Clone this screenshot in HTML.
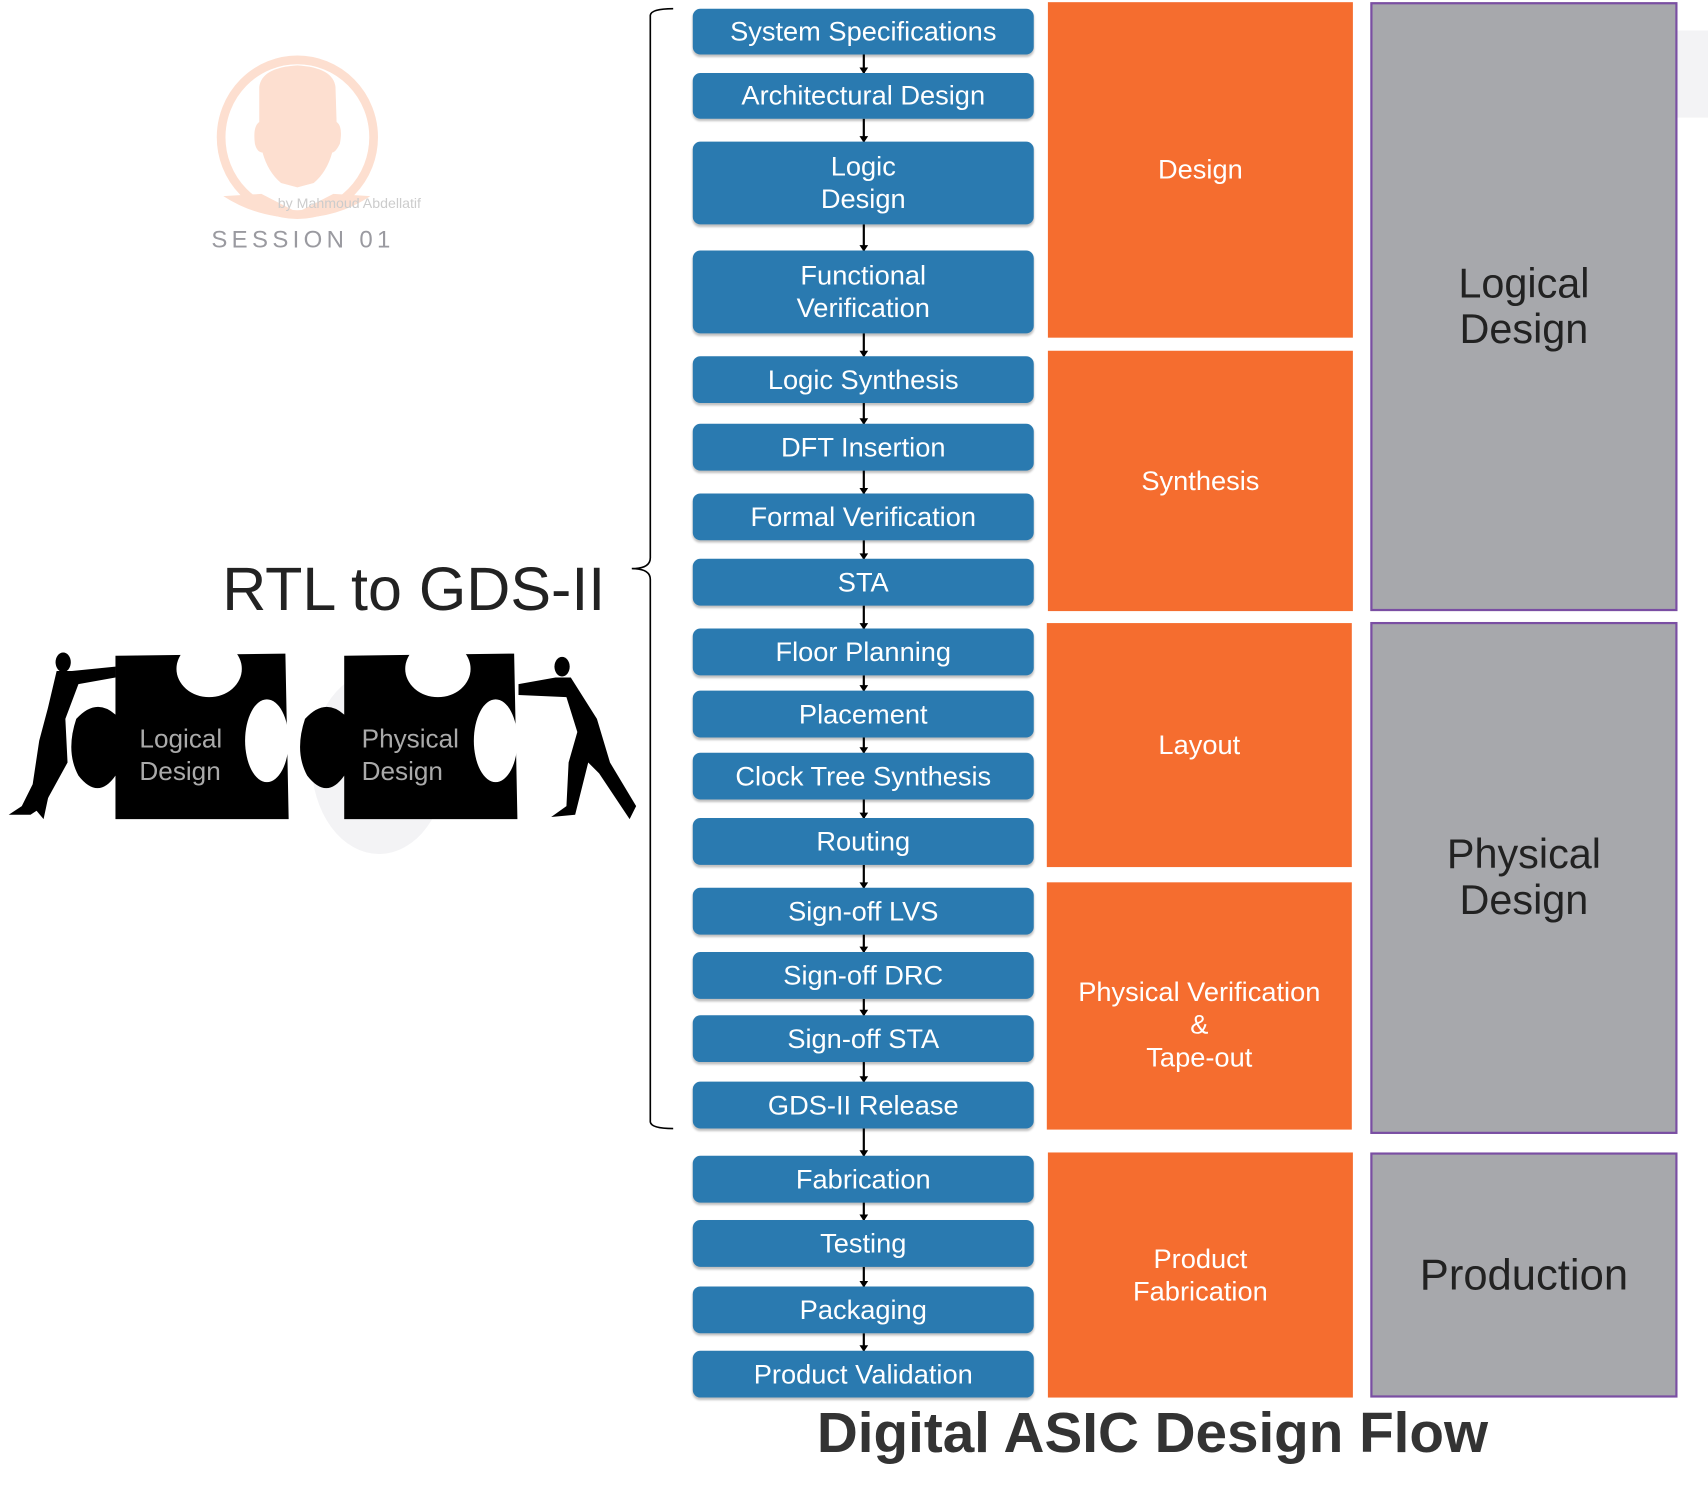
<!DOCTYPE html>
<html><head><meta charset="utf-8"><style>
html,body{margin:0;padding:0;background:#fff;}
#wrap{position:relative;width:1568px;height:1377px;transform:scale(1.08929);transform-origin:0 0;font-family:"Liberation Sans",sans-serif;overflow:hidden}
.b{position:absolute;left:636px;width:313px;background:#2A7AB0;border-radius:7px;color:#fff;font-size:25px;display:flex;align-items:center;justify-content:center;text-align:center;line-height:30px;box-shadow:0 2px 2px rgba(0,0,0,.25)}
.o{position:absolute;left:962px;width:280px;background:#F56D2F;color:#fff;font-size:25px;display:flex;align-items:center;justify-content:center;text-align:center;line-height:30px}
.g{position:absolute;left:1258px;width:278px;background:#A7A8AC;border:2px solid #7A4EA3;color:#222;font-size:38px;display:flex;align-items:center;justify-content:center;text-align:center;line-height:42px}
.a{position:absolute;left:792px;width:1.5px;background:#000}
.a:after{content:"";position:absolute;left:-3.5px;bottom:-1px;border-left:4px solid transparent;border-right:4px solid transparent;border-top:6px solid #000}
</style></head><body><div id="wrap">
<div style="position:absolute;left:1540px;top:28px;width:28px;height:80px;background:#f3f3f5"></div>
<svg style="position:absolute;left:0;top:0" width="1568" height="1377">
<ellipse cx="273" cy="126" rx="70" ry="71" fill="none" stroke="#FDDFD0" stroke-width="8"/>
<path d="M238 80 Q240 62 273 60 Q306 62 308 80 L309 112 Q315 116 312 132 Q308 140 305 140 Q300 158 288 168 L273 172 L258 168 Q246 158 241 140 Q236 140 234 132 Q232 116 238 112 Z" fill="#FDDFD0"/>
<path d="M205 180 L240 178 L273 195 L306 178 L340 180 Q310 200 273 200 Q236 200 205 180Z" fill="#FDDFD0"/>
<text x="255" y="191" font-family="Liberation Sans" font-size="13" fill="#ccc">by Mahmoud Abdellatif</text>
<text x="194" y="227" font-family="Liberation Sans" font-size="22" fill="#9a9aa0" letter-spacing="4">SESSION 01</text>
<path d="M618 8 Q598 8 597 14 L597 512 Q597 522 580 522 Q597 522 597 532 L597 1030 Q598 1036 618 1036" fill="none" stroke="#000" stroke-width="1.5"/>
<ellipse cx="348" cy="700" rx="62" ry="84" fill="#f3f3f5"/>
<g fill="#000">
<path d="M106 602 L262 600 L265 752 L106 752 L106 712 Q90 735 72 712 Q60 690 70 660 Q88 640 106 656 Z"/>
<path d="M316 602 L472 600 L475 752 L316 752 L316 712 Q300 735 282 712 Q270 690 280 660 Q298 640 316 656 Z"/>
</g>
<g fill="#fff">
<ellipse cx="192" cy="614" rx="30" ry="26"/>
<ellipse cx="402" cy="614" rx="30" ry="26"/>
<ellipse cx="245" cy="680" rx="20" ry="38"/>
<ellipse cx="455" cy="680" rx="20" ry="38"/>
</g>
<g fill="#000">
<ellipse cx="58" cy="608" rx="7" ry="9"/>
<path d="M52 616 L66 616 L106 612 L106 622 L72 628 L60 660 L62 700 L40 740 L28 748 L8 748 L20 740 L30 720 L36 680 L44 650 Z"/>
<path d="M44 700 L30 740 L40 752 L50 705Z"/>
<ellipse cx="516" cy="612" rx="7" ry="9"/>
<path d="M476 628 L510 622 L524 622 L548 660 L560 700 L584 740 L578 752 L550 710 L540 700 L528 748 L506 750 L520 740 L522 700 L530 672 L520 640 L476 638Z"/>
</g>
<text x="128" y="686" font-family="Liberation Sans" font-size="24" fill="#aaa">Logical</text>
<text x="128" y="716" font-family="Liberation Sans" font-size="24" fill="#aaa">Design</text>
<text x="332" y="686" font-family="Liberation Sans" font-size="24" fill="#aaa">Physical</text>
<text x="332" y="716" font-family="Liberation Sans" font-size="24" fill="#aaa">Design</text>
<text x="204" y="560" font-family="Liberation Sans" font-size="56" fill="#222">RTL to GDS-II</text>
<text x="1058" y="1333" text-anchor="middle" font-family="Liberation Sans" font-weight="bold" font-size="52" fill="#333">Digital ASIC Design Flow</text>
</svg>
<div class="a" style="top:50px;height:17px"></div>
<div class="a" style="top:109px;height:21px"></div>
<div class="a" style="top:206px;height:24px"></div>
<div class="a" style="top:306px;height:21px"></div>
<div class="a" style="top:370px;height:19px"></div>
<div class="a" style="top:432px;height:21px"></div>
<div class="a" style="top:496px;height:17px"></div>
<div class="a" style="top:556px;height:21px"></div>
<div class="a" style="top:620px;height:14px"></div>
<div class="a" style="top:677px;height:14px"></div>
<div class="a" style="top:734px;height:17px"></div>
<div class="a" style="top:794px;height:21px"></div>
<div class="a" style="top:858px;height:16px"></div>
<div class="a" style="top:917px;height:15px"></div>
<div class="a" style="top:975px;height:18px"></div>
<div class="a" style="top:1036px;height:25px"></div>
<div class="a" style="top:1104px;height:16px"></div>
<div class="a" style="top:1163px;height:18px"></div>
<div class="a" style="top:1224px;height:16px"></div>
<div class="b" style="top:8px;height:42px">System Specifications</div>
<div class="b" style="top:67px;height:42px">Architectural Design</div>
<div class="b" style="top:130px;height:76px">Logic<br>Design</div>
<div class="b" style="top:230px;height:76px">Functional<br>Verification</div>
<div class="b" style="top:327px;height:43px">Logic Synthesis</div>
<div class="b" style="top:389px;height:43px">DFT Insertion</div>
<div class="b" style="top:453px;height:43px">Formal Verification</div>
<div class="b" style="top:513px;height:43px">STA</div>
<div class="b" style="top:577px;height:43px">Floor Planning</div>
<div class="b" style="top:634px;height:43px">Placement</div>
<div class="b" style="top:691px;height:43px">Clock Tree Synthesis</div>
<div class="b" style="top:751px;height:43px">Routing</div>
<div class="b" style="top:815px;height:43px">Sign-off LVS</div>
<div class="b" style="top:874px;height:43px">Sign-off DRC</div>
<div class="b" style="top:932px;height:43px">Sign-off STA</div>
<div class="b" style="top:993px;height:43px">GDS-II Release</div>
<div class="b" style="top:1061px;height:43px">Fabrication</div>
<div class="b" style="top:1120px;height:43px">Testing</div>
<div class="b" style="top:1181px;height:43px">Packaging</div>
<div class="b" style="top:1240px;height:43px">Product Validation</div>
<div class="o" style="top:2px;height:308px">Design</div>
<div class="o" style="top:322px;height:239px">Synthesis</div>
<div class="o" style="top:572px;height:224px;left:961px">Layout</div>
<div class="o" style="top:810px;height:227px;left:961px;padding-top:34px;box-sizing:border-box">Physical Verification<br>&amp;<br>Tape-out</div>
<div class="o" style="top:1058px;height:225px">Product<br>Fabrication</div>
<div class="g" style="top:2px;height:555px">Logical<br>Design</div>
<div class="g" style="top:571px;height:466px">Physical<br>Design</div>
<div class="g" style="top:1058px;height:221px;font-size:40px">Production</div>
</div></body></html>
